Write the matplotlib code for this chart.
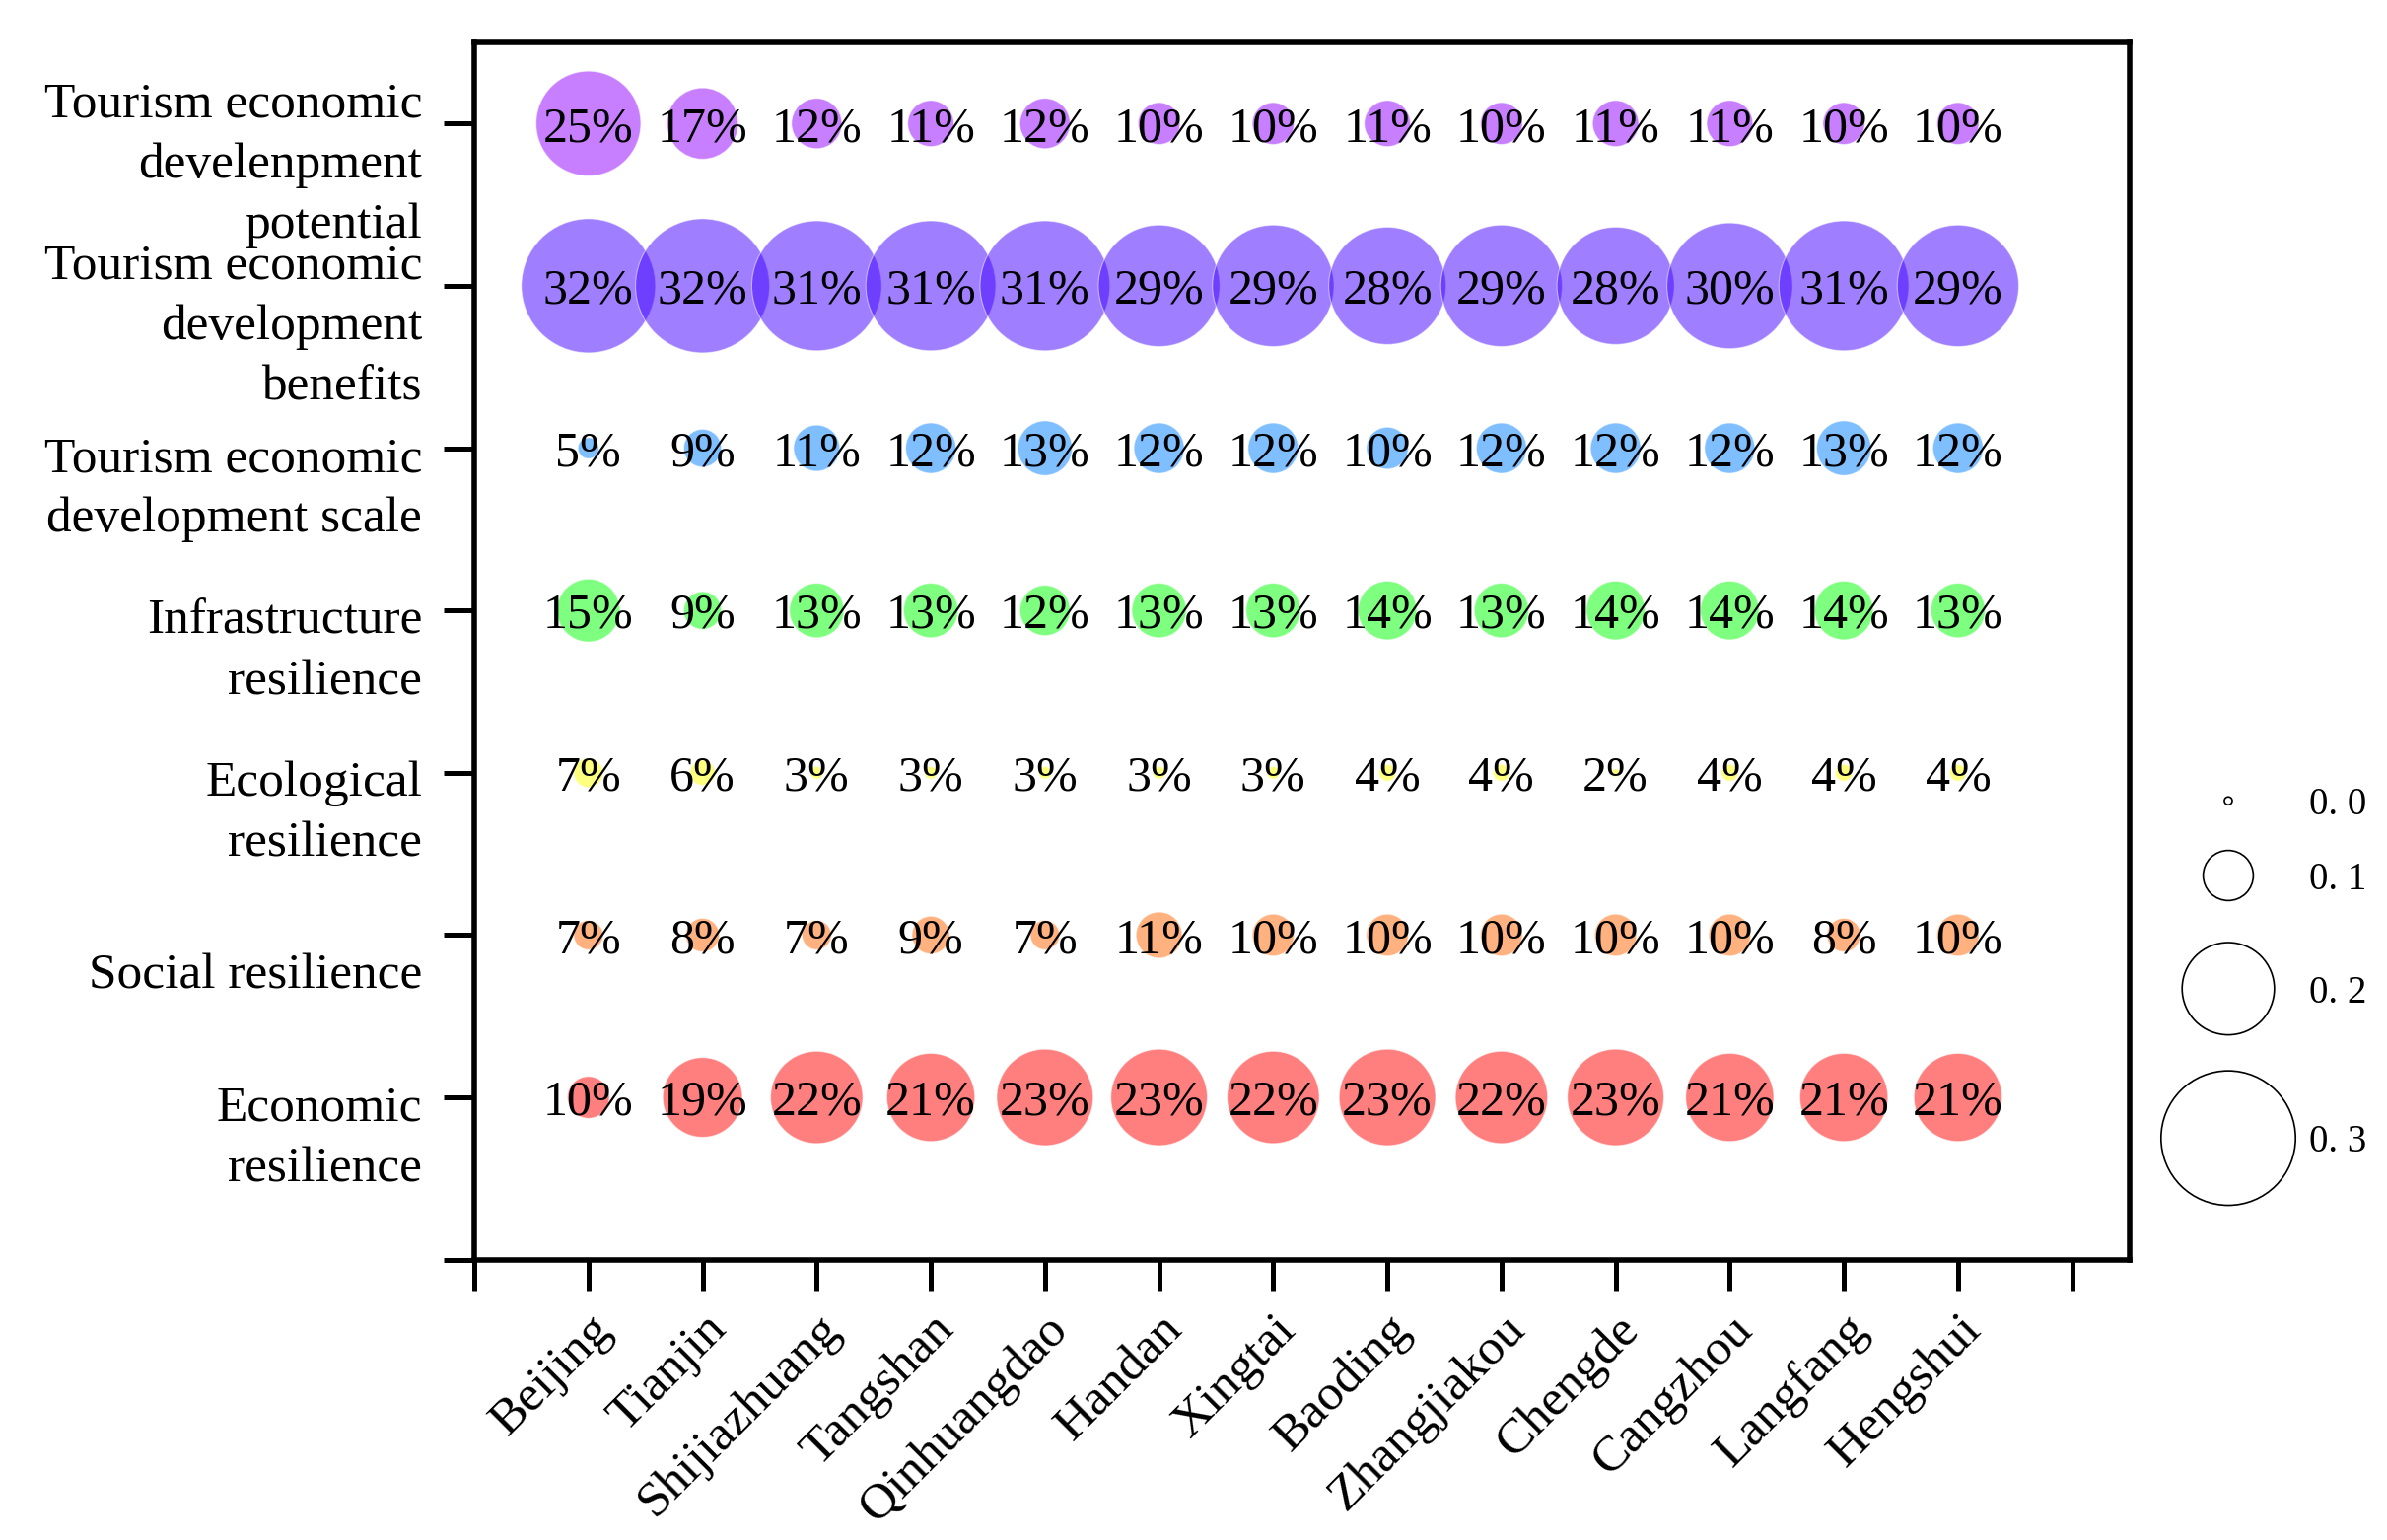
import matplotlib
matplotlib.use("Agg")
import matplotlib.pyplot as plt
import matplotlib.transforms as mtransforms
import numpy as np

plt.rcParams['font.family'] = ['Liberation Serif', 'DejaVu Serif']

cities = ['Beijing', 'Tianjin', 'Shijiazhuang', 'Tangshan', 'Qinhuangdao', 'Handan',
          'Xingtai', 'Baoding', 'Zhangjiakou', 'Chengde', 'Cangzhou', 'Langfang', 'Hengshui']

# rows from bottom to top
indicators = ['Economic\nresilience',
              'Social resilience',
              'Ecological\nresilience',
              'Infrastructure\nresilience',
              'Tourism economic\ndevelopment scale',
              'Tourism economic\ndevelopment\nbenefits',
              'Tourism economic\ndevelenpment\npotential']

economic = [10, 19, 22, 21, 23, 23, 22, 23, 22, 23, 21, 21, 21]
social = [7, 8, 7, 9, 7, 11, 10, 10, 10, 10, 10, 8, 10]
ecological = [7, 6, 3, 3, 3, 3, 3, 4, 4, 2, 4, 4, 4]
infrastructure = [15, 9, 13, 13, 12, 13, 13, 14, 13, 14, 14, 14, 13]
scale = [5, 9, 11, 12, 13, 12, 12, 10, 12, 12, 12, 13, 12]
benefits = [32, 32, 31, 31, 31, 29, 29, 28, 29, 28, 30, 31, 29]
potential = [25, 17, 12, 11, 12, 10, 10, 11, 10, 11, 11, 10, 10]

rows = [economic, social, ecological, infrastructure, scale, benefits, potential]
colors = ['#FF0000', '#FF6600', '#FFFF00', '#00FF00', '#0080FF', '#4000FF', '#9000FF']

legend_values = [0.0, 0.1, 0.2, 0.3]

DPI = 200


def bubble_size(v):
    # diameter in pixels -> marker area in points^2
    d_pt = 425 * v * 72 / DPI
    return d_pt ** 2


def legend_size(v):
    d_pt = (8 + 428 * v) * 72 / DPI
    return d_pt ** 2


fig = plt.figure(figsize=(12.105, 7.81), dpi=DPI)
ax = fig.add_axes([0.1987, 0.182, 0.892 - 0.1987, 0.9725 - 0.182])

x = np.arange(1, len(cities) + 1)
for i, (vals, col) in enumerate(zip(rows, colors)):
    v = np.array(vals) / 100
    y = np.full(len(x), i + 1)
    ax.scatter(x, y, s=bubble_size(v), c=col, alpha=0.5,
               edgecolors='white', linewidths=0.4, zorder=2)
    for xi, yi, val in zip(x, y, vals):
        ax.text(xi, yi, f'{val}%', ha='center', va='center_baseline',
                fontsize=18, zorder=3)

ax.set_xlim(0, 14.5)
ax.set_ylim(0, 7.5)

ax.set_xticks(range(15))
ax.set_xticklabels([''] + cities + [''], rotation=45, ha='right',
                   rotation_mode='anchor', fontsize=18.5)
offset = mtransforms.ScaledTranslation(14 / 72, -14 / 72, fig.dpi_scale_trans)
for lab in ax.get_xticklabels():
    lab.set_transform(lab.get_transform() + offset)

ax.set_yticks(range(8))
ax.set_yticklabels([])
ytrans = ax.get_yaxis_transform()
for i, name in enumerate(indicators):
    ax.text(-0.0316, i + 1 - 0.255, name, transform=ytrans, ha='right',
            va='center', fontsize=18.5, linespacing=1.42)

ax.tick_params(direction='out', length=11, width=1.8, pad=6)
for sp in ax.spines.values():
    sp.set_linewidth(2)

# size legend
lax = fig.add_axes([0, 0, 1, 1])
lax.set_xlim(0, 1)
lax.set_ylim(0, 1)
lax.axis('off')
leg_y = [0.480, 0.4315, 0.358, 0.261]
for v, ly in zip(legend_values, leg_y):
    lax.scatter([0.9335], [ly], s=legend_size(v), facecolors='none',
                edgecolors='black', linewidths=0.6)
    lax.text(0.9675, ly, f'{v:.1f}'.replace('.', '. '), ha='left',
             va='center_baseline', fontsize=14)

fig.savefig('out.png', dpi=DPI)
